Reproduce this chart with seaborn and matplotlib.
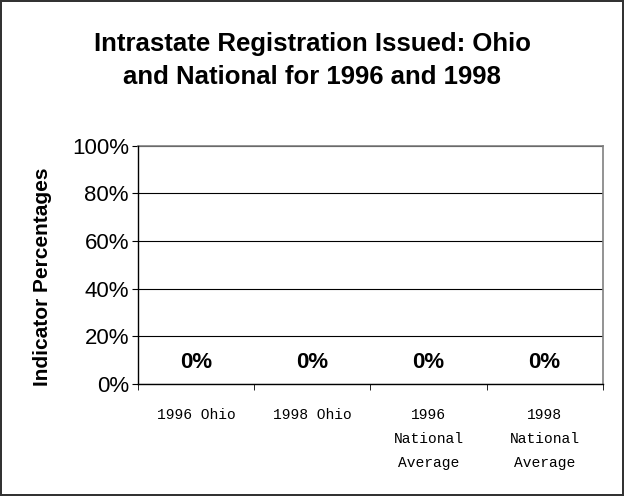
import matplotlib
matplotlib.use("Agg")
import matplotlib.pyplot as plt
import seaborn as sns
import pandas as pd
from matplotlib.ticker import FixedLocator, PercentFormatter

categories = ["1996 Ohio", "1998 Ohio", "1996\nNational\nAverage", "1998\nNational\nAverage"]
values = [0, 0, 0, 0]
bar_labels = ["0%", "0%", "0%", "0%"]

data = pd.DataFrame({"group": categories, "pct": values})

sns.set_style("white")
plt.rcParams["font.family"] = ["Liberation Sans", "DejaVu Sans"]
plt.rcParams["text.color"] = "black"
plt.rcParams["axes.labelcolor"] = "black"
plt.rcParams["xtick.color"] = "black"
plt.rcParams["ytick.color"] = "black"

fig = plt.figure(figsize=(6.24, 4.96), dpi=100)
fig.patch.set_edgecolor("#333333")
fig.patch.set_linewidth(1.5)
ax = fig.add_axes([0.221, 0.226, 0.745, 0.48])

sns.barplot(data=data, x="group", y="pct", color="#9999ff", linewidth=0, ax=ax)
ax.set_ylim(0, 100)
ax.set_xlim(-0.5, 3.5)
ax.yaxis.set_major_locator(FixedLocator([0, 20, 40, 60, 80, 100]))
ax.yaxis.set_major_formatter(PercentFormatter(decimals=0))
ax.grid(axis="y", color="black", linewidth=0.8)
ax.set_axisbelow(True)

for s in ["top", "right"]:
    ax.spines[s].set_color("#808080")
    ax.spines[s].set_linewidth(1.2)
for s in ["left", "bottom"]:
    ax.spines[s].set_color("black")
    ax.spines[s].set_linewidth(1.0)
    ax.spines[s].set_zorder(5)

ax.tick_params(axis="y", which="major", direction="out", length=4.5, color="black",
               labelsize=16, pad=2, left=True)
ax.xaxis.set_minor_locator(FixedLocator([-0.5, 0.5, 1.5, 2.5, 3.5]))
ax.tick_params(axis="x", which="minor", direction="out", length=4, color="black", bottom=True)
ax.tick_params(axis="x", which="major", length=0, pad=17)
for lbl in ax.get_xticklabels():
    lbl.set_family(["Liberation Mono", "DejaVu Sans Mono"])
    lbl.set_fontsize(10.5)
    lbl.set_linespacing(1.95)
    lbl.set_verticalalignment("top")

ax.bar_label(ax.containers[0], labels=bar_labels, padding=8, fontsize=16, fontweight="bold")

ax.set_xlabel("")
ax.set_ylabel("Indicator Percentages", fontsize=15, fontweight="bold")
ax.yaxis.set_label_coords(-0.185, 0.45)
fig.suptitle("Intrastate Registration Issued: Ohio\nand National for 1996 and 1998",
             fontsize=18.5, fontweight="bold", y=0.935, linespacing=1.45)

fig.savefig("out.png", dpi=100, edgecolor=fig.get_edgecolor())
